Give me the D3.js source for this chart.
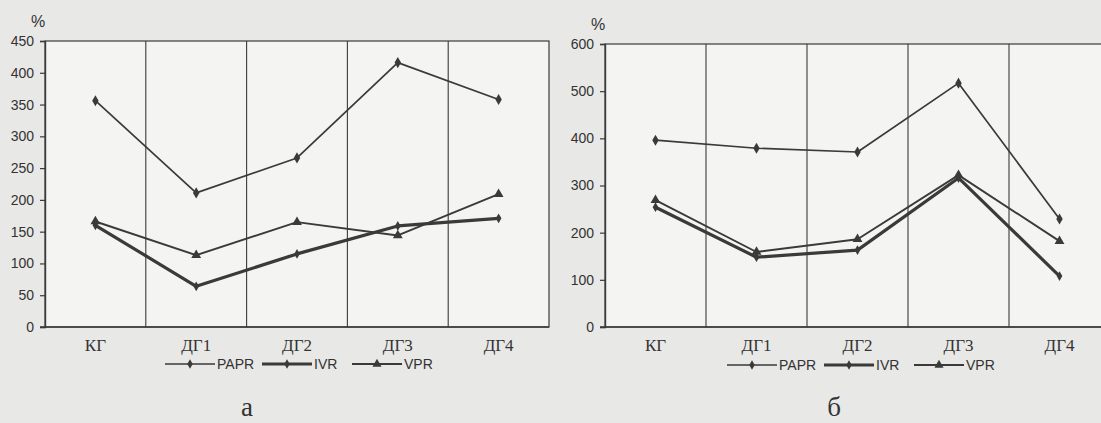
<!DOCTYPE html>
<html>
<head>
<meta charset="utf-8">
<script src="https://cdn.jsdelivr.net/npm/d3@7"></script>
<style>
  body { margin: 0; background: #e8e8e6; }
  svg { display: block; }
</style>
</head>
<body>
<svg id="chart" width="1101" height="423"></svg>
<script>
// categories on the x axis (same for both panels)
var categories = ["КГ", "ДГ1", "ДГ2", "ДГ3", "ДГ4"];

// panel "а"
var papr_a = [356, 211, 266, 416, 358];
var ivr_a  = [160, 64, 115, 159, 171];
var vpr_a  = [166, 113, 165, 144, 209];
var ticks_a = [0, 50, 100, 150, 200, 250, 300, 350, 400, 450];

// panel "б"
var papr_b = [396, 379, 371, 517, 229];
var ivr_b  = [254, 148, 163, 316, 108];
var vpr_b  = [269, 159, 186, 322, 182];
var ticks_b = [0, 100, 200, 300, 400, 500, 600];

var seriesNames = ["PAPR", "IVR", "VPR"];

var ink = "#3a3a3a";
var svg = d3.select("#chart");

function panel(opt) {
    var g = svg.append("g");

    var x = d3.scaleBand().domain(categories).range([opt.left, opt.right]).padding(0);
    var y = d3.scaleLinear().domain([0, opt.max]).range([opt.bottom, opt.top]);

    // plot area
    g.append("rect")
        .attr("x", opt.left).attr("y", opt.top)
        .attr("width", opt.right - opt.left).attr("height", opt.bottom - opt.top)
        .attr("fill", "#f4f4f2")
        .attr("stroke", ink).attr("stroke-width", 1.2);

    // vertical separators between categories
    g.selectAll("line.sep")
        .data(categories.slice(1))
        .enter().append("line")
        .attr("class", "sep")
        .attr("x1", d => x(d)).attr("x2", d => x(d))
        .attr("y1", opt.top).attr("y2", opt.bottom)
        .attr("stroke", ink).attr("stroke-width", 1.1);

    // y axis
    var yAxis = g.append("g")
        .attr("transform", "translate(" + opt.left + ",0)")
        .call(d3.axisLeft(y).tickValues(opt.ticks).tickSize(5).tickPadding(6));
    yAxis.select(".domain").attr("stroke", ink).attr("stroke-width", 1.4);
    yAxis.selectAll(".tick line").attr("stroke", ink).attr("stroke-width", 1.2);
    yAxis.selectAll("text")
        .attr("fill", "#333")
        .style("font-family", "Liberation Sans, Arial, sans-serif")
        .style("font-size", "14px");

    // bottom line
    g.append("line")
        .attr("x1", opt.left - 5).attr("x2", opt.right)
        .attr("y1", opt.bottom).attr("y2", opt.bottom)
        .attr("stroke", ink).attr("stroke-width", 1.6);

    // x labels
    g.selectAll("text.cat")
        .data(categories)
        .enter().append("text")
        .attr("class", "cat")
        .attr("x", d => x(d) + x.bandwidth() / 2)
        .attr("y", opt.bottom + 24)
        .attr("text-anchor", "middle")
        .attr("fill", "#333")
        .style("font-family", "Liberation Serif, Times New Roman, serif")
        .style("font-size", "17px")
        .text(d => d);

    // % unit
    g.append("text")
        .attr("x", opt.left - 7).attr("y", opt.top - 14)
        .attr("text-anchor", "middle")
        .attr("fill", "#333")
        .style("font-family", "Liberation Sans, Arial, sans-serif")
        .style("font-size", "16px")
        .text("%");

    var series = [
        {name: "PAPR", values: opt.papr, width: 1.7, marker: "diamond"},
        {name: "IVR",  values: opt.ivr,  width: 3.2, marker: "diamond"},
        {name: "VPR",  values: opt.vpr,  width: 1.9, marker: "triangle"}
    ];

    var line = d3.line()
        .x((d, i) => x(categories[i]) + x.bandwidth() / 2)
        .y(d => y(d));

    series.forEach(function(s) {
        g.append("path")
            .datum(s.values)
            .attr("fill", "none")
            .attr("stroke", ink)
            .attr("stroke-width", s.width)
            .attr("stroke-linejoin", "round")
            .attr("d", line);

        var sym = s.marker == "triangle"
            ? d3.symbol().type(d3.symbolTriangle).size(42)
            : d3.symbol().type(d3.symbolDiamond).size(s.name == "IVR" ? 28 : 36);

        g.selectAll(null)
            .data(s.values)
            .enter().append("path")
            .attr("d", sym)
            .attr("fill", ink)
            .attr("transform", (d, i) => "translate(" + (x(categories[i]) + x.bandwidth() / 2) + "," + y(d) + ")");
    });

    // legend
    var lg = g.append("g").attr("transform", "translate(0," + opt.legendY + ")");
    var pos = opt.legendX;
    series.forEach(function(s, i) {
        var x0 = pos[i], len = 50;
        lg.append("line")
            .attr("x1", x0).attr("x2", x0 + len)
            .attr("y1", 0).attr("y2", 0)
            .attr("stroke", ink).attr("stroke-width", s.width);
        var sym = s.marker == "triangle"
            ? d3.symbol().type(d3.symbolTriangle).size(36)
            : d3.symbol().type(d3.symbolDiamond).size(26);
        lg.append("path")
            .attr("d", sym)
            .attr("fill", ink)
            .attr("transform", "translate(" + (x0 + len / 2) + ",0)");
        lg.append("text")
            .attr("x", x0 + len + 2).attr("y", 5)
            .attr("fill", "#333")
            .style("font-family", "Liberation Sans, Arial, sans-serif")
            .style("font-size", "14px")
            .text(seriesNames[i]);
    });

    // panel letter
    g.append("text")
        .attr("x", opt.letterX).attr("y", 416)
        .attr("text-anchor", "middle")
        .attr("fill", "#333")
        .style("font-family", "Liberation Serif, Times New Roman, serif")
        .style("font-size", "27px")
        .text(opt.letter);
}

panel({
    left: 45, right: 549, top: 41, bottom: 327, max: 450, ticks: ticks_a,
    papr: papr_a, ivr: ivr_a, vpr: vpr_a,
    legendY: 364, legendX: [165, 262, 352],
    letter: "а", letterX: 247
});

panel({
    left: 605, right: 1110, top: 44, bottom: 327, max: 600, ticks: ticks_b,
    papr: papr_b, ivr: ivr_b, vpr: vpr_b,
    legendY: 365, legendX: [727, 824, 914],
    letter: "б", letterX: 834
});
</script>
</body>
</html>
